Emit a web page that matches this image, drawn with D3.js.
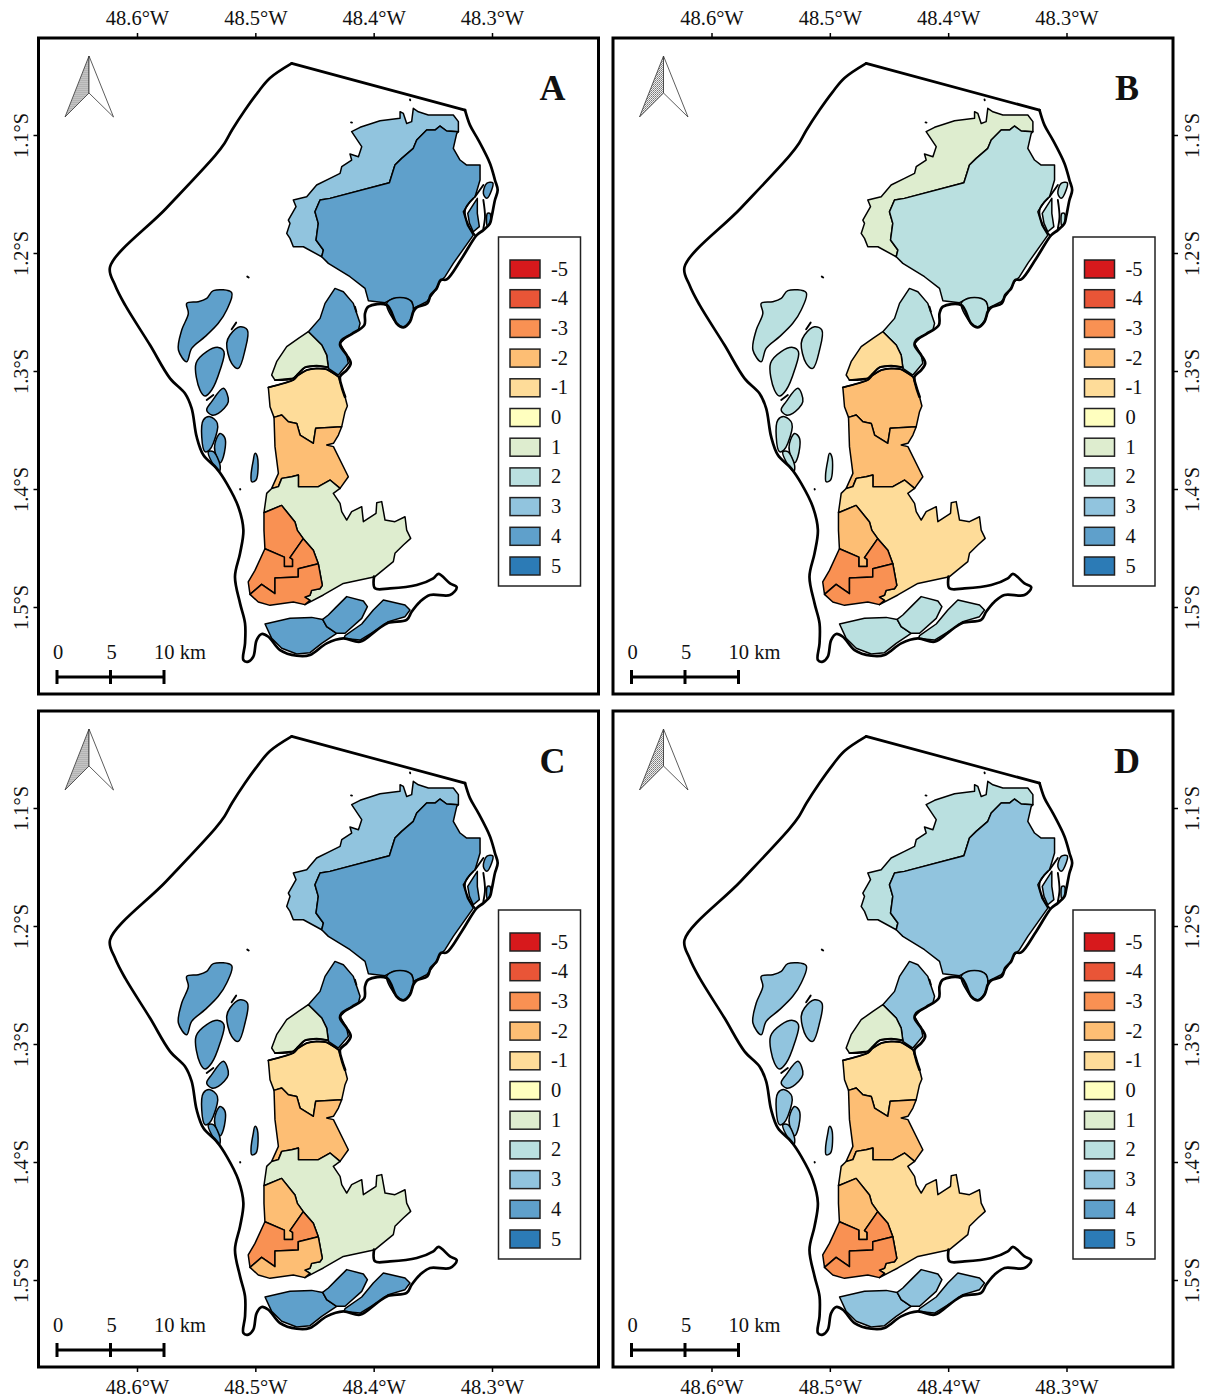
<!DOCTYPE html>
<html>
<head>
<meta charset="utf-8">
<script src="https://cdn.jsdelivr.net/npm/d3@7"></script>
<style>
  html, body { margin: 0; background: #fff; }
  text { font-family: "Liberation Serif", serif; fill: #111; }
</style>
</head>
<body>
<div id="chart"></div>
<script>
// all shapes are [w, s]: thousandths of a degree west of 48W and south of 1S
var lonTicks = [600, 500, 400, 300];
var latTicks = [100, 200, 300, 400, 500];
var legendClasses = [-5, -4, -3, -2, -1, 0, 1, 2, 3, 4, 5];
var legendColors = ["#d7191c", "#e95537", "#f99153", "#fdbe74", "#fedc99", "#ffffbf", "#deedcf", "#bae0e0", "#91c4de", "#5fa0cb", "#2c7bb6"];
var panelNames = ["A", "B", "C", "D"];
var scaleKm = [0, 5, 10];

var northStrip = [[473.5,183.4],[470.7,174.9],[472.1,172.1],[465.6,160.8],[467.9,155.1],[456.6,152.3],[448.2,142.4],[436.9,136.8],[428.4,132.5],[427,126.9],[418.6,121.2],[420,116.1],[412.9,118.4],[410.1,109.9],[418.6,97.2],[411.5,93.5],[394.6,87.9],[377.7,85.9],[377.7,80.3],[374.9,81.7],[372.1,90.2],[367.9,88.7],[366.5,77.4],[362.2,80.3],[353.8,83.1],[332.7,83.1],[328.4,88.7],[328.4,97.2],[338.3,96.6],[343.9,92.4],[348.2,95.8],[355.2,95.8],[363.6,104.3],[366.5,111.3],[376.3,119.8],[382,125.5],[386.7,140.4],[436.9,153.7],[445.3,155.1],[449.6,165],[446.8,174.9],[448.7,189],[442.5,197.5],[443.9,203.2],[459.4,194.7],[467.9,194.7],[470.7,187.6]];
var northMain = [[328.4,97.2],[338.3,96.6],[343.9,92.4],[348.2,95.8],[355.2,95.8],[363.6,104.3],[366.5,111.3],[376.3,119.8],[382,125.5],[386.7,140.4],[436.9,153.7],[445.3,155.1],[449.6,165],[446.8,174.9],[448.7,189],[442.5,197.5],[443.9,203.2],[438.3,208.8],[420,220.1],[407.3,230],[404.5,240.4],[390.4,242.1],[383.4,238.5],[372.1,238.5],[367.9,241.3],[366.5,246.9],[355.2,241.3],[349.6,234.2],[343.9,224.3],[339.7,220.1],[332.7,208.8],[315.8,184.8],[320.8,176.3],[324.2,165],[318.6,156.5],[314.3,152.3],[310.1,138.2],[310.1,125.5],[321.4,125.5],[327,121.2],[332.7,111.3],[329.8,98.6]];
var bayLobe = [[389,242.7],[380.6,259.7],[374.9,262.5],[369.3,257.4],[366.5,248.4],[367.9,241.3],[372.1,238.5],[383.4,238.5]];
var eastIslet1 = [[320.5,166.4],[316.5,160],[312.4,153.7],[312.4,166.4],[310.7,177.7],[315.8,182],[319,174.9]];
var eastIslet2 = [[307.3,149.5],[304.5,141],[299.4,140.4],[300.3,146.7],[304.5,153.7]];
var eastIslet3 = [[303.9,166.4],[301.7,166.4],[301.7,174.9],[303.9,177.2]];

var westIsland1 = [[520,233.6],[535.5,231.9],[541.1,238.4],[548.2,241.3],[558,242.7],[556.6,251.2],[562.2,265.3],[565,282.2],[558,292.1],[553.8,280.8],[542.5,270.9],[531.3,259.6],[524.2,248.3]];
var westIsland2 = [[512.9,262.5],[506.7,265.3],[508.7,282.2],[514.4,297.8],[520,293.5],[524.2,276.6],[521.4,269.5]];
var westIsland3 = [[531.3,280],[526.5,283.6],[529.8,299.2],[536.9,316.1],[542.5,321.2],[546.8,316.1],[550.1,293.5],[541.1,283.6]];
var westIsland4 = [[527,314.7],[522.8,326],[531.3,335.9],[536.9,337.3],[541.1,333.1],[536.9,326]];
var westIsland5 = [[538.3,338.7],[532.1,344.4],[535.5,361.3],[538.9,367],[542.5,368.4],[545.3,355.7],[543.9,341.5]];
var westIsland6 = [[529.8,352.9],[525.6,357.1],[527,372.6],[529.8,377.7],[534.1,368.4],[534.1,361.3]];
var westIsland7 = [[539.7,368.4],[535.5,368.4],[529.8,379.7],[530.4,385.3],[536.9,376.9]];
var westIsland8 = [[500.3,369.8],[498.3,372.6],[499.4,392.4],[503.1,393.8],[503.6,388.2],[501.7,375.5]];

var midNorth = [[455.2,266.7],[445.3,255.4],[441.1,242.7],[432.7,230],[425.6,232.8],[417.2,242.7],[414.3,251.2],[411.5,259.6],[412.9,265.3],[422.8,270.9],[428.4,276.6],[422.8,286.5],[421.4,293.5],[429.8,303.4],[438.3,297.8],[439.7,286.5],[443.9,278]];
var midGreen = [[455.2,266.7],[463.6,272.3],[473.5,279.4],[482,292.1],[486.2,303.4],[483.4,307.7],[467.9,306.2],[463.6,302],[458,296.9],[448.2,295.5],[438.3,296.9],[439.7,286.5],[443.9,278]];
var midTan = [[489,313.9],[476.3,310.5],[467.9,307.6],[463.6,303.4],[456.6,299.2],[448.2,297.8],[439.7,298.6],[429.8,304.8],[427,313.3],[424.2,321.8],[422.2,329.7],[424.2,334.5],[427,347.2],[449,348.6],[451,361.3],[462.2,354.3],[465,344.4],[472.1,343],[477.7,337.3],[484.2,339.3],[487.6,330.3]];
var midOrange = [[427,347.2],[449,348.6],[451,361.3],[462.2,354.3],[465,344.4],[472.1,343],[477.7,337.3],[484.2,339.3],[483.4,364.1],[480.5,386.8],[486.2,399.5],[480.5,398],[477.7,391],[469.3,389.6],[463.6,388.2],[463.6,398],[446.7,398],[436.9,392.4],[428.4,399.5],[421.4,389.6],[434,364.1],[439.7,362.7],[434,361.3],[429.8,354.3]];

var southLarge = [[492.7,420.1],[490.4,403.7],[486.2,399.5],[480.5,398],[477.7,391],[469.3,389.6],[463.6,388.2],[463.6,398],[446.7,398],[436.9,392.4],[428.4,399.5],[434.1,403.7],[428.4,412.2],[427,419.2],[422.8,426.3],[418.6,419.2],[410.1,415],[408.7,427.7],[398,420.6],[397.4,411.6],[393.2,410.7],[390.4,426.3],[382,427.7],[373.5,423.5],[372.1,434.8],[368.7,441.8],[374.9,447.5],[382,454.5],[383.4,461.6],[390.4,467.2],[398.9,474.3],[425.6,480],[442.5,489.8],[458.1,498],[453.8,494.4],[458.1,491.6],[453.8,490.1],[452.4,485.9],[445.4,484.5],[443.4,481.7],[446.8,463.3],[451,452],[459.5,442.1],[464.5,435.1],[466.5,428],[477.8,413.9]];
var swNorth = [[492.7,420.1],[477.8,413.9],[466.5,428],[464.5,435.1],[459.5,442.1],[470.7,458.2],[468.5,459.6],[468.5,465.6],[475.5,465.6],[475.5,457.7],[491.9,450.6],[492.7,435.1]];
var swCenter = [[491.9,450.6],[475.5,457.7],[475.5,465.6],[468.5,465.6],[468.5,459.6],[470.7,458.2],[459.5,442.1],[451,452],[446.8,463.3],[463.7,467.5],[463.7,474.6],[483.4,475.4],[483.4,488.7],[494.7,480.8],[504.5,489.3],[506,478.8],[500.3,469]];
var swSouth = [[504.5,489.3],[494.7,480.8],[483.4,488.7],[483.4,475.4],[463.7,474.6],[463.7,467.5],[446.8,463.3],[443.4,481.7],[445.4,484.5],[452.4,485.9],[453.8,490.1],[458.1,491.6],[453.8,494.4],[458.1,498],[467.9,495.8],[487.6,498.6],[497.5,495.8]];

var southIsle1 = [[491.8,514.4],[470.7,509.6],[452.4,508.8],[443.1,510.5],[439.7,516.7],[431.3,522.3],[443.9,530.8],[453.8,538.7],[465,539.8],[477.7,535],[486.2,526.6]];
var southIsle2 = [[443.1,510.5],[438.3,506.8],[431.3,499.7],[422.8,491.2],[408.7,494.9],[405.3,499.7],[410.1,509.6],[424.2,522.3],[431.3,522.3],[439.7,516.7]];
var southIsle3 = [[425.1,526.6],[424.2,524.3],[410.1,514.4],[400.3,502.5],[391.8,494.1],[373.5,498.3],[369.3,502.5],[373.5,508.2],[387.6,512.4],[397.4,519.5],[411.5,528]];

// groups of shapes sharing one value, and the value of each group per panel
var groupShapes = [
  [northStrip],
  [northMain, bayLobe, eastIslet1, eastIslet2, eastIslet3],
  [westIsland1, westIsland2, westIsland3, westIsland4, westIsland5, westIsland6, westIsland7, westIsland8],
  [midNorth],
  [midGreen],
  [midTan],
  [midOrange],
  [southLarge],
  [swNorth],
  [swCenter],
  [swSouth],
  [southIsle1, southIsle2, southIsle3]
];
var valuesA = [3, 4, 4, 4, 1, -1, -2, 1, -3, -3, -3, 4];
var valuesB = [1, 2, 2, 2, -1, -2, -2, -1, -2, -3, -3, 2];
var valuesC = [3, 4, 4, 4, 1, -1, -2, 1, -2, -3, -2, 4];
var valuesD = [2, 3, 3, 3, 1, -1, -2, -1, -2, -3, -3, 3];
var panelValues = [valuesA, valuesB, valuesC, valuesD];

// shapes with rounded shores rather than survey-style corners
var roundShapes = [bayLobe, eastIslet2, eastIslet3, westIsland1, westIsland2, westIsland3, westIsland4, westIsland5, westIsland6, westIsland7, westIsland8];

var coastNorth = [[469.3,39.3],[322.8,78.9]];
var coastEast = [[322.8,78.9],[318.6,91.6],[311.5,104.3],[301.7,124.1],[297.5,138.2],[295.2,146.7],[297.5,155.1],[300.3,169.3],[301.7,174.9],[307.3,180.6],[312.9,184.8],[325.6,204.6],[338.3,222.4],[343.4,222.9],[346.7,230],[351.8,235.6],[354.6,242.7],[363.6,246.1],[366.5,249.8],[369.3,258.2],[374.9,263],[380.6,259.7],[389,244.1],[404.5,245.5],[407.3,251.2],[407.9,261.1],[418.6,268.7],[427,273.8],[428.4,278],[422.8,286.5],[419.4,293.5],[422.8,299.2],[428.4,304.8],[427,313.3],[424.2,321.8]];
var coastWest = [[469.3,39.3],[487.6,51.7],[497.7,63.6],[508.7,78.8],[519.7,95.8],[526,107],[534,117.5],[575.5,162.3],[622.8,211.9],[618.6,227.1],[610.1,244],[589,278],[572.1,306.2],[559.4,319],[553.8,331.7],[549.6,355.7],[543.9,371.2],[532.7,382.5],[524.2,395.2],[514.4,415],[510.1,434.8],[512.9,454.5],[517.2,474.3],[512.9,496.9],[508.7,513.9],[508.7,530.8],[510.1,544.9],[505.9,546.3],[501.7,542.1],[498.9,528],[494.6,522.9],[489,525.2],[479.1,536.5],[465,541.3],[453.8,540.7],[439.7,530.8],[425.6,526.6],[411.5,529.4],[397.4,519.5],[387.6,513.3],[372.1,511],[367.9,504],[360.8,495.5],[352.4,489.8],[335.5,489.8],[329.8,483.3],[335.5,480],[345.3,472],[349.6,475.7],[363.6,481.4],[386.2,484.2],[398.9,484.2],[399.7,474.3]];
var channelLines = [
  [[315.8,153.7],[322.8,163.6],[320,176.3],[314.4,184.8]],
  [[307.3,142.4],[314.3,152.3]],
  [[307.3,155.1],[305.9,169.3],[307.3,179.1]],
  [[483.4,307.7],[467.9,306.2],[463.6,302],[458,296.9],[448.2,295.5],[438.3,296.9]],
  [[489,313.9],[476.3,310.5],[467.9,307.6],[463.6,303.4],[456.6,299.2],[448.2,297.8],[439.7,298.6],[429.8,304.8]],
  [[520,264.7],[516.2,259]],
  [[541.1,324.6],[535.5,320.4]],
  [[415.8,245.5],[414.6,249.7]],
  [[506.8,220],[505.6,220.8]],
  [[512.9,400],[512.7,400.4]],
  [[419.1,89.3],[418.3,89.5]],
  [[369.3,69.8],[369.1,70.6]]
];

var width = 1211, height = 1398;
var panelW = 560, panelH = 656;
var panelX = [38.5, 613, 38.5, 613];
var panelY = [38, 38, 711, 711];
var fontSize = 20.5;

var x = d3.scaleLinear().domain([600, 300]).range([98.5, 453.5]);
var y = d3.scaleLinear().domain([100, 500]).range([97, 569]);
var km = d3.scaleLinear().domain([0, 10]).range([18.5, 125.5]);
var color = d3.scaleOrdinal().domain(legendClasses).range(legendColors);

var line = d3.line().x(function (d) { return x(d[0]); }).y(function (d) { return y(d[1]); });
var smooth = d3.line().x(function (d) { return x(d[0]); }).y(function (d) { return y(d[1]); }).curve(d3.curveCatmullRom.alpha(0.5));
var smoothClosed = d3.line().x(function (d) { return x(d[0]); }).y(function (d) { return y(d[1]); }).curve(d3.curveCatmullRomClosed.alpha(0.5));

var svg = d3.select("#chart").append("svg")
  .attr("width", width)
  .attr("height", height)
  .style("display", "block");

var stipple = svg.append("defs").append("pattern")
  .attr("id", "stipple")
  .attr("width", 2)
  .attr("height", 2)
  .attr("patternUnits", "userSpaceOnUse");
stipple.append("rect").attr("width", 2).attr("height", 2).attr("fill", "#eee");
stipple.append("rect").attr("width", 1).attr("height", 1).attr("fill", "#777");
stipple.append("rect").attr("x", 1).attr("y", 1).attr("width", 1).attr("height", 1).attr("fill", "#999");

function lonLabel(d) { return "48." + (d / 100) + "\u00b0W"; }
function latLabel(d) { return "1." + (d / 100) + "\u00b0S"; }

panelNames.forEach(function (name, p) {
  var g = svg.append("g")
    .attr("transform", "translate(" + panelX[p] + "," + panelY[p] + ")");

  // polygons
  groupShapes.forEach(function (shapes, i) {
    g.append("g")
      .selectAll("path")
      .data(shapes)
      .enter().append("path")
      .attr("d", function (d) { return roundShapes.indexOf(d) >= 0 ? smoothClosed(d) : line(d) + "Z"; })
      .attr("fill", color(panelValues[p][i]))
      .attr("stroke", "#000")
      .attr("stroke-width", 1.5)
      .attr("stroke-linejoin", "round");
  });

  // coast
  g.append("g")
    .selectAll("path")
    .data(channelLines)
    .enter().append("path")
    .attr("d", smooth)
    .attr("fill", "none")
    .attr("stroke", "#000")
    .attr("stroke-width", 1.9)
    .attr("stroke-linecap", "round");

  g.append("path")
    .attr("d", line(coastNorth))
    .attr("fill", "none")
    .attr("stroke", "#000")
    .attr("stroke-width", 2.7)
    .attr("stroke-linecap", "round");

  g.selectAll("path.coast")
    .data([coastEast, coastWest])
    .enter().append("path")
    .attr("class", "coast")
    .attr("d", smooth)
    .attr("fill", "none")
    .attr("stroke", "#000")
    .attr("stroke-width", 2.7)
    .attr("stroke-linecap", "round")
    .attr("stroke-linejoin", "round");

  // axes
  var top = p < 2;
  var left = p % 2 == 0;
  var xAxis = (top ? d3.axisTop(x) : d3.axisBottom(x))
    .tickValues(lonTicks).tickSize(5).tickPadding(top ? 8 : 7).tickFormat(lonLabel);
  var yAxis = (left ? d3.axisLeft(y) : d3.axisRight(y))
    .tickValues(latTicks).tickSize(5).tickFormat(latLabel);

  var xg = g.append("g")
    .attr("transform", "translate(0," + (top ? 0 : panelH) + ")")
    .call(xAxis);
  var yg = g.append("g")
    .attr("transform", "translate(" + (left ? 0 : panelW) + ",0)")
    .call(yAxis);

  xg.select(".domain").remove();
  yg.select(".domain").remove();
  xg.selectAll("line").attr("stroke", "#000").attr("stroke-width", 1.5);
  yg.selectAll("line").attr("stroke", "#000").attr("stroke-width", 1.5);
  xg.selectAll("text").attr("font-size", fontSize).attr("font-family", "Liberation Serif").attr("fill", "#111");
  yg.selectAll("text")
    .attr("font-size", fontSize)
    .attr("font-family", "Liberation Serif")
    .attr("fill", "#111")
    .attr("x", null)
    .attr("dy", null)
    .attr("text-anchor", "middle")
    .attr("transform", "translate(" + (left ? -11 : 26) + ",0) rotate(-90)");

  // frame
  g.append("rect")
    .attr("width", panelW)
    .attr("height", panelH)
    .attr("fill", "none")
    .attr("stroke", "#000")
    .attr("stroke-width", 3);

  // panel letter
  g.append("text")
    .attr("x", 514)
    .attr("y", 62)
    .attr("text-anchor", "middle")
    .attr("font-size", 36)
    .attr("font-weight", "bold")
    .attr("fill", "#000")
    .text(name);

  // north arrow
  g.append("path")
    .attr("d", "M50.5,18L26.5,79L50.5,55Z")
    .attr("fill", "url(#stipple)")
    .attr("stroke", "#333")
    .attr("stroke-width", 0.8);
  g.append("path")
    .attr("d", "M50.5,18L75,79L50.5,55Z")
    .attr("fill", "#fff")
    .attr("stroke", "#333")
    .attr("stroke-width", 0.8);

  // scale bar
  var bar = g.append("g").attr("transform", "translate(0,639)");
  bar.append("line")
    .attr("x1", km(0))
    .attr("x2", km(10))
    .attr("stroke", "#000")
    .attr("stroke-width", 3);
  bar.selectAll("line.tick")
    .data(scaleKm)
    .enter().append("line")
    .attr("class", "tick")
    .attr("x1", km)
    .attr("x2", km)
    .attr("y1", -7)
    .attr("y2", 7)
    .attr("stroke", "#000")
    .attr("stroke-width", 3);
  bar.selectAll("text")
    .data(scaleKm)
    .enter().append("text")
    .attr("x", function (d) { return d == 10 ? km(d) - 10 : km(d) + 1; })
    .attr("y", -18)
    .attr("text-anchor", function (d) { return d == 10 ? "start" : "middle"; })
    .attr("font-size", fontSize)
    .text(function (d) { return d == 10 ? "10 km" : d; });

  // legend
  var legend = g.append("g").attr("transform", "translate(460,199)");
  legend.append("rect")
    .attr("width", 82)
    .attr("height", 349)
    .attr("fill", "#fff")
    .attr("stroke", "#222")
    .attr("stroke-width", 1.5);
  var rows = legend.selectAll("g")
    .data(legendClasses)
    .enter().append("g")
    .attr("transform", function (d, i) { return "translate(11.5," + (23 + i * 29.7) + ")"; });
  rows.append("rect")
    .attr("width", 30)
    .attr("height", 18)
    .attr("fill", color)
    .attr("stroke", "#222")
    .attr("stroke-width", 1.5);
  rows.append("text")
    .attr("x", 41)
    .attr("y", 15.5)
    .attr("font-size", fontSize)
    .text(function (d) { return d; });
});
</script>
</body>
</html>
